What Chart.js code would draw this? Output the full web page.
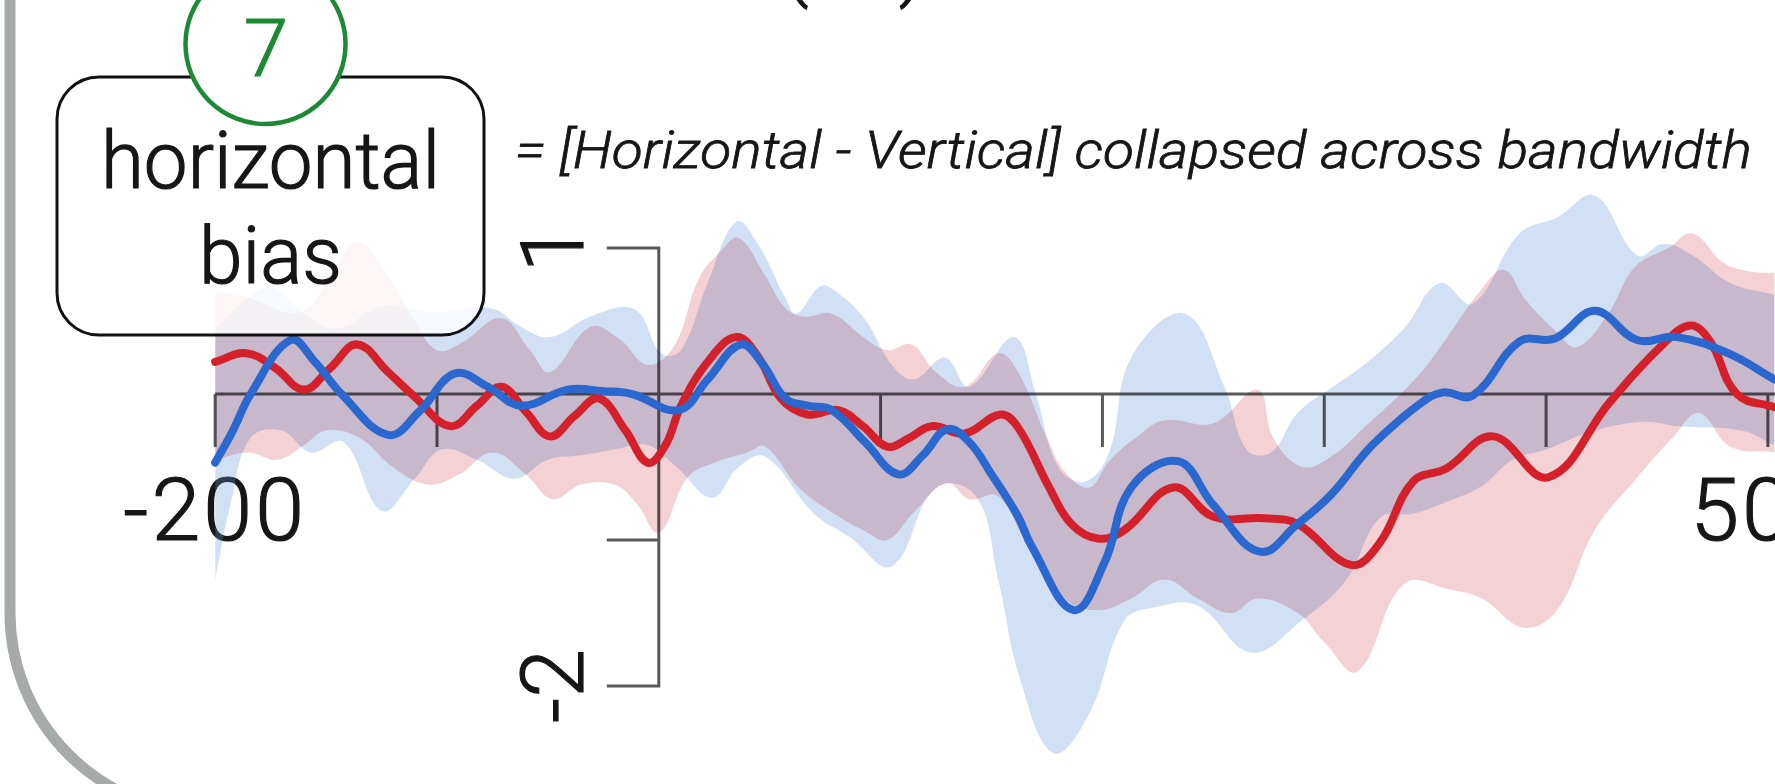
<!DOCTYPE html>
<html>
<head>
<meta charset="utf-8">
<script src="https://cdn.jsdelivr.net/npm/chart.js@4.4.1/dist/chart.umd.min.js"></script>
<style>
  html, body { margin: 0; padding: 0; background: #fff; width: 1775px; height: 784px; overflow: hidden; }
  #stage { position: relative; width: 1775px; height: 784px; }
  #under, #over { position: absolute; left: 0; top: 0; }
  #plot { position: absolute; left: 0; top: 0; }
  text { font-family: Roboto, "Liberation Sans", Arial, sans-serif; font-weight: 300; fill: #161616; stroke: #161616; stroke-width: 1.2px; }
  text.badge { fill: #1c8a34; stroke: #1c8a34; }
</style>
</head>
<body>
<div id="stage">
  <svg id="under" width="1775" height="784"></svg>
  <canvas id="plot" width="1775" height="784"></canvas>
  <svg id="over" width="1775" height="784">
    <path d="M10 -20 L10 613 A200 200 0 0 0 210 813" fill="none" stroke="#a6aaa8" stroke-width="11"/>
    <text x="783" y="-9" font-size="80">(</text>
    <text x="899" y="-9" font-size="80">)</text>
    <text x="515" y="168" font-size="51" font-style="italic" textLength="1237" lengthAdjust="spacingAndGlyphs" style="stroke-width:0.8px">= [Horizontal - Vertical] collapsed across bandwidth</text>
    <rect x="57" y="77" width="427" height="258" rx="42" ry="42" fill="rgba(255,255,255,0.8)" stroke="#111" stroke-width="3"/>
    <text x="270.5" y="188" font-size="79" text-anchor="middle" textLength="339" lengthAdjust="spacingAndGlyphs">horizontal</text>
    <text x="270.5" y="283" font-size="79" text-anchor="middle" textLength="143" lengthAdjust="spacingAndGlyphs">bias</text>
    <circle cx="265.5" cy="44" r="80" fill="#fff" stroke="#1c8a34" stroke-width="4.5"/>
    <text class="badge" x="266" y="76" font-size="80" text-anchor="middle">7</text>
  </svg>
</div>
<script>
// Time axis (ms) and bias axis ticks
const timeTicks = [-200, -100, 0, 100, 200, 300, 400, 500];
const valueTicks = [1, -1, -2];
const timeLabels = [-200, 500];
const valueLabels = [1, -2];

// Red condition: mean
const redMeanT = [-200,-186,-173,-160,-148,-136,-122,-110,-94,-82,-71,-60,-49,-38,-27,-15,-5,3,10,22,35,45,55,67,81,92,103,113,123,138,154,162,176,186,198,210,232,250,273,288,312,325,340,355,376,401,429,452,465,474,486,503];
const redMeanV = [0.22,0.28,0.18,0.03,0.18,0.34,0.15,-0.02,-0.22,-0.08,0.05,-0.12,-0.29,-0.15,-0.03,-0.25,-0.47,-0.35,-0.08,0.22,0.39,0.25,-0.03,-0.14,-0.11,-0.22,-0.36,-0.3,-0.22,-0.27,-0.14,-0.23,-0.64,-0.89,-0.99,-0.93,-0.64,-0.84,-0.85,-0.89,-1.17,-1.02,-0.6,-0.51,-0.29,-0.57,-0.05,0.33,0.47,0.36,0.0,-0.09];

// Blue condition: mean
const blueMeanT = [-200,-192,-184,-166,-155,-143,-122,-108,-92,-77,-62,-41,-25,-12,9,22,37,47,57,67,78,93,108,119,130,140,150,162,168,187,201,213,234,250,271,288,303,318,325,342,353,367,388,404,422,441,459,482,503];
const blueMeanV = [-0.47,-0.25,0.0,0.37,0.22,0.0,-0.28,-0.12,0.14,0.05,-0.08,0.03,0.02,0.0,-0.11,0.1,0.34,0.2,-0.03,-0.08,-0.11,-0.33,-0.55,-0.42,-0.24,-0.33,-0.55,-0.84,-1.04,-1.48,-1.15,-0.64,-0.46,-0.76,-1.08,-0.89,-0.69,-0.41,-0.3,-0.08,0.01,-0.01,0.36,0.38,0.57,0.37,0.39,0.28,0.1];

// Red condition: confidence band edges
const redUpperT = [-200,-185,-162,-148,-136,-122,-110,-100,-89,-71,-58,-49,-31,-18,-5,7,18,28,36,48,57,66,78,93,103,114,125,138,153,162,175,183,194,203,215,228,250,270,277,290,303,318,342,355,370,381,391,405,414,428,440,455,466,480,492,503];
const redUpperV = [0.7,0.66,0.56,0.8,1.04,0.8,0.5,0.3,0.35,0.52,0.3,0.15,0.46,0.38,0.2,0.33,0.79,0.98,1.07,0.81,0.59,0.53,0.55,0.38,0.3,0.34,0.15,0.05,0.28,0.15,-0.3,-0.53,-0.64,-0.46,-0.3,-0.18,-0.2,0.03,-0.3,-0.5,-0.43,-0.23,0.12,0.38,0.7,0.85,0.64,0.42,0.32,0.55,0.87,1.0,1.1,0.9,0.84,0.83];
const redLowerT = [-200,-185,-172,-160,-150,-135,-120,-104,-90,-75,-60,-48,-35,-20,-10,0,13,25,40,48,63,78,93,103,115,130,140,153,165,183,198,213,228,243,258,270,288,300,315,336,357,371,390,405,422,440,457,469,483,503];
const redLowerV = [-0.45,-0.4,-0.45,-0.35,-0.25,-0.3,-0.5,-0.62,-0.55,-0.4,-0.55,-0.72,-0.62,-0.62,-0.75,-0.95,-0.57,-0.47,-0.4,-0.36,-0.64,-0.81,-0.94,-1.0,-0.81,-0.61,-0.72,-0.7,-1.0,-1.4,-1.48,-1.4,-1.27,-1.4,-1.5,-1.4,-1.5,-1.7,-1.9,-1.3,-1.34,-1.4,-1.6,-1.48,-0.93,-0.59,-0.3,-0.13,-0.36,-0.4];

// Blue condition: confidence band edges
const blueUpperT = [-200,-176,-160,-145,-125,-101,-76,-62,-49,-31,-11,1,10,22,35,45,57,62,73,80,93,105,115,129,140,160,170,180,192,203,213,237,255,265,276,288,305,318,336,352,367,388,405,422,441,453,466,483,503];
const blueUpperV = [0.45,0.73,0.55,0.45,0.6,0.56,0.59,0.46,0.39,0.53,0.58,0.28,0.3,0.76,1.18,1.02,0.66,0.55,0.74,0.7,0.51,0.2,0.1,0.25,0.05,0.39,0.0,-0.5,-0.6,-0.4,0.25,0.55,0.05,-0.38,-0.4,-0.13,0.06,0.2,0.45,0.76,0.62,1.1,1.21,1.36,0.95,1.03,0.95,0.76,0.68];
const blueLowerT = [-200,-193,-184,-170,-157,-142,-125,-110,-98,-82,-65,-50,-35,-20,-5,8,24,36,48,70,86,105,125,143,153,163,178,194,210,224,243,267,290,310,325,340,355,371,385,400,420,444,459,488,503];
const blueLowerV = [-1.27,-0.75,-0.3,-0.25,-0.4,-0.33,-0.8,-0.58,-0.38,-0.45,-0.58,-0.45,-0.42,-0.38,-0.35,-0.5,-0.71,-0.5,-0.43,-0.82,-0.98,-1.18,-0.64,-0.7,-1.27,-1.96,-2.46,-2.19,-1.55,-1.46,-1.45,-1.77,-1.55,-1.27,-0.85,-0.82,-0.74,-0.63,-0.45,-0.38,-0.26,-0.19,-0.22,-0.25,-0.35];

const toPoints = (ts, vs) => ts.map((t, i) => ({ x: t, y: vs[i] }));

const RED = '#d4202a';
const BLUE = '#2a67cf';
const RED_FILL = 'rgba(215,102,112,0.3)';
const BLUE_FILL = 'rgba(105,152,222,0.3)';
const AXIS = '#5a5a5a';
const LINE_COUNT = 2; // datasets 0 and 1 are the mean traces

// Axis bracket: zero line with downward ticks, vertical scale bar with left ticks.
// Bands are blended with 'multiply' so their overlap darkens like stacked transparencies.
const bracketAxes = {
  id: 'bracketAxes',
  beforeDatasetsDraw(chart) {
    const { ctx, chartArea, scales: { x, y } } = chart;
    const x0 = x.getPixelForValue(0);
    const y0 = y.getPixelForValue(0);
    ctx.save();
    ctx.strokeStyle = AXIS;
    ctx.lineWidth = 3;
    ctx.beginPath();
    ctx.moveTo(x.getPixelForValue(timeTicks[0]), y0);
    ctx.lineTo(chartArea.right, y0);
    timeTicks.forEach(t => {
      const px = x.getPixelForValue(t);
      ctx.moveTo(px, y0);
      ctx.lineTo(px, y0 + 53);
    });
    ctx.moveTo(x0, y.getPixelForValue(Math.max(...valueTicks)) - 1.5);
    ctx.lineTo(x0, y.getPixelForValue(Math.min(...valueTicks)) + 1.5);
    valueTicks.forEach(v => {
      const py = y.getPixelForValue(v);
      ctx.moveTo(x0 - 52, py);
      ctx.lineTo(x0, py);
    });
    ctx.stroke();
    ctx.restore();
    ctx.globalCompositeOperation = 'multiply';
  },
  beforeDatasetDraw(chart, args) {
    chart.ctx.globalCompositeOperation = args.index < LINE_COUNT ? 'source-over' : 'multiply';
  },
  afterDatasetsDraw(chart) {
    chart.ctx.globalCompositeOperation = 'source-over';
  }
};

const lineStyle = { pointRadius: 0, tension: 0.4, borderCapStyle: 'round', borderJoinStyle: 'round' };
const bandStyle = { pointRadius: 0, tension: 0.4, borderWidth: 0, borderColor: 'rgba(0,0,0,0)' };

const chart = new Chart(document.getElementById('plot'), {
  type: 'line',
  data: {
    datasets: [
      { label: 'Blue', data: toPoints(blueMeanT, blueMeanV), borderColor: BLUE, borderWidth: 8, fill: false, order: 0, ...lineStyle },
      { label: 'Red', data: toPoints(redMeanT, redMeanV), borderColor: RED, borderWidth: 8, fill: false, order: 1, ...lineStyle },
      { label: 'Blue upper', data: toPoints(blueUpperT, blueUpperV), backgroundColor: BLUE_FILL, fill: '+1', order: 2, ...bandStyle },
      { label: 'Blue lower', data: toPoints(blueLowerT, blueLowerV), fill: false, order: 3, ...bandStyle },
      { label: 'Red upper', data: toPoints(redUpperT, redUpperV), backgroundColor: RED_FILL, fill: '+1', order: 4, ...bandStyle },
      { label: 'Red lower', data: toPoints(redLowerT, redLowerV), fill: false, order: 5, ...bandStyle }
    ]
  },
  options: {
    responsive: false,
    devicePixelRatio: 1,
    animation: false,
    events: [],
    layout: { padding: 0 },
    plugins: { legend: { display: false }, tooltip: { enabled: false } },
    scales: {
      x: { type: 'linear', min: -297, max: 503.2, display: false },
      y: { type: 'linear', min: -2.671, max: 2.699, display: false }
    }
  },
  plugins: [bracketAxes]
});

// Tick labels sit beneath the transparent canvas so the bands tint them
const svgNS = 'http://www.w3.org/2000/svg';
const under = document.getElementById('under');
function addText(str, attrs) {
  const el = document.createElementNS(svgNS, 'text');
  Object.entries(attrs).forEach(([k, v]) => el.setAttribute(k, v));
  el.textContent = str;
  under.appendChild(el);
}
const xs = chart.scales.x, ys = chart.scales.y;
timeLabels.forEach(v => addText(String(v), {
  x: xs.getPixelForValue(v), y: ys.getPixelForValue(0) + 146,
  'font-size': 88, 'text-anchor': 'middle', 'letter-spacing': 3
}));
valueLabels.forEach(v => addText(String(v), {
  transform: `translate(${xs.getPixelForValue(0) - 76},${ys.getPixelForValue(v)}) rotate(-90)`,
  'font-size': 88, 'text-anchor': 'middle'
}));
</script>
</body>
</html>
